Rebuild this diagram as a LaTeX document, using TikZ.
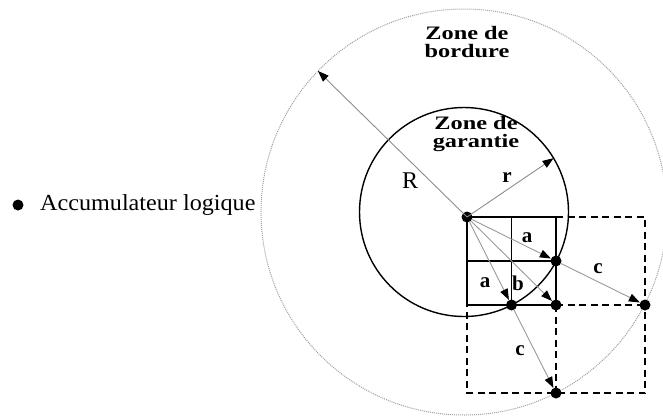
\documentclass[tikz,border=0pt]{standalone}
\usepackage{fontspec}
\usepackage{graphicx}
\setmainfont{Liberation Serif}
\usetikzlibrary{arrows.meta,calc}
\begin{document}
\begin{tikzpicture}[x=1pt,y=-1pt,
  dotnode/.style={circle,fill=black,inner sep=0pt,minimum size=11pt},
  gridline/.style={line width=1.8pt},
  dashline/.style={line width=1.8pt,dash pattern=on 7pt off 4.5pt},
  vec/.style={draw=gray!80,line width=0.9pt,-{Triangle[length=11pt,width=8pt,color=black]}},
  lbl/.style={font=\fontsize{21}{21}\selectfont\bfseries,inner sep=0pt,anchor=base},
  zone/.style={font=\fontsize{19}{18}\selectfont\bfseries,align=center,inner sep=0pt}]
\useasboundingbox (0,0) rectangle (663,416);
% circle centre and circles
\coordinate (cc) at (464,212);
\draw[gray!75,line width=1pt,densely dotted] (cc) circle (203);
\draw[black,line width=1.4pt] (cc) circle (104.5);
% solid grid
\draw[gridline] (467,217) rectangle (556,305);
\draw[gridline] (511.5,217) -- (511.5,305);
\draw[gridline] (467,261) -- (556,261);
% dashed extension
\draw[dashline] (556,217) -- (645,217) -- (645,393) -- (467,393) -- (467,305);
\draw[dashline] (556,305) -- (645,305);
\draw[dashline] (556,305) -- (556,393);
% points
\node[dotnode] (O) at (467,217) {};
\node[dotnode] (A1) at (556,261) {};
\node[dotnode] (A2) at (511.5,305) {};
\node[dotnode] (B) at (556,305) {};
\node[dotnode] (C1) at (645,305) {};
\node[dotnode] (C2) at (556,393) {};
\coordinate (Rend) at ($(cc)+(-136:203)$);
\coordinate (rend) at ($(cc)+(-31:104.5)$);
% vectors
\draw[vec,draw=gray!90] (O.center) -- (Rend);
\draw[vec,draw=gray!90] (O.center) -- (rend);
\draw[vec] (O) -- (A1);
\draw[vec] (O) -- (A2);
\draw[vec] (O) -- (B);
\draw[vec] (A1) -- (C1);
\draw[vec] (A2) -- (C2);
% labels
\node[zone] (zb) at (467,42) {\scalebox{1.28}[1]{Zone de}\\\scalebox{1.28}[1]{bordure}};
\node[zone] (zg) at (476,134) {\scalebox{1.28}[1]{Zone de}\\\scalebox{1.28}[1]{garantie}};
\node[font=\fontsize{24}{24}\selectfont,inner sep=0pt,anchor=base] (lR) at (410,188) {R};
\node[lbl] (lr) at (507,182) {r};
\node[lbl] (la1) at (527,242) {a};
\node[lbl] (la2) at (485,287) {a};
\node[lbl] (lb) at (518,290) {b};
\node[lbl] (lc1) at (598,273) {c};
\node[lbl] (lc2) at (520,355) {c};
% legend
\node[dotnode] (bul) at (18,205) {};
\node[font=\fontsize{23}{23}\selectfont,inner sep=0pt,anchor=base west] (leg) at (40,210) {\scalebox{1.05}[1]{Accumulateur logique}};
\end{tikzpicture}
\end{document}
